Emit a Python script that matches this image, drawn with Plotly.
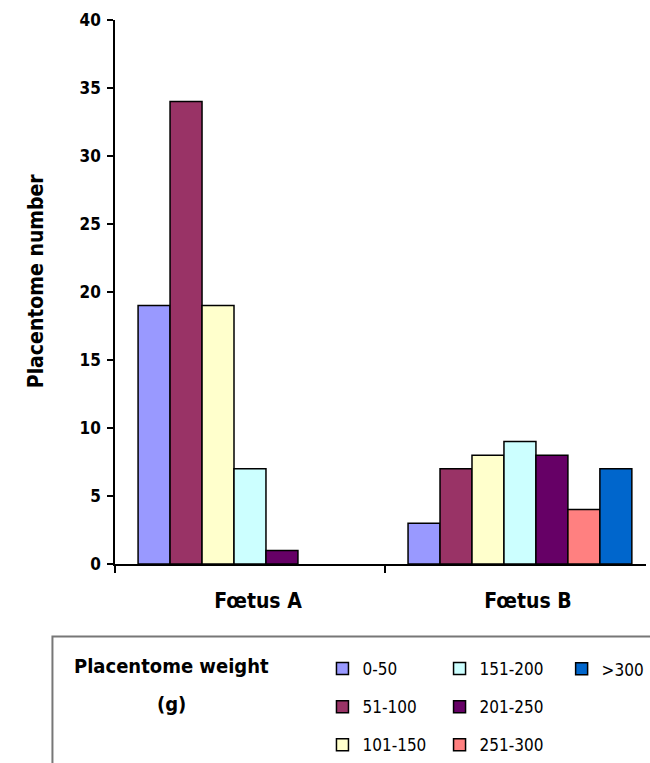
import plotly.graph_objects as go

# data
categories = ["Fœtus A", "Fœtus B"]
weight_classes = ["0-50", "51-100", "101-150", "151-200", "201-250", "251-300", ">300"]
foetus_a = [19, 34, 19, 7, 1, 0, 0]
foetus_b = [3, 7, 8, 9, 8, 4, 7]
colors = ["#9999FF", "#993366", "#FFFFCC", "#CCFFFF", "#660066", "#FF8080", "#0066CC"]

# which legend column each class goes in
legend_cols = ["legend", "legend", "legend", "legend2", "legend2", "legend2", "legend3"]

FONT = "Liberation Sans Narrow, Arial Narrow, DejaVu Sans Condensed, Arial, sans-serif"

fig = go.Figure()

for i, name in enumerate(weight_classes):
    # B first so the legend swatch takes its style from a drawn bar;
    # empty classes keep their slot but draw nothing, like Excel
    vals = [foetus_b[i], foetus_a[i]]
    fig.add_trace(
        go.Bar(
            x=[categories[1], categories[0]],
            y=[v if v else None for v in vals],
            name=name,
            marker=dict(color=colors[i], line=dict(color="black", width=1.5)),
            legend=legend_cols[i],
            legendgroup=name,
        )
    )

legend_style = dict(
    orientation="v",
    bgcolor="rgba(0,0,0,0)",
    font=dict(family=FONT, size=17, color="black"),
    itemwidth=30,
    tracegroupgap=13,
    xanchor="left",
    yanchor="top",
)

fig.update_layout(
    width=650,
    height=763,
    margin=dict(l=115, r=0, t=20, b=196),
    plot_bgcolor="white",
    paper_bgcolor="white",
    barmode="group",
    bargap=0.171,
    bargroupgap=0,
    showlegend=True,
    font=dict(family=FONT, color="black"),
    legend=dict(x=0.3907, y=-0.1605, **legend_style),
    legend2=dict(x=0.6112, y=-0.1605, **legend_style),
    legend3=dict(x=0.8411, y=-0.1605, **legend_style),
)

fig.update_xaxes(
    type="category",
    categoryorder="array",
    categoryarray=categories,
    automargin=False,
    range=[-0.5, -0.5 + 535 / 272],
    showline=True,
    linecolor="black",
    linewidth=1.5,
    ticks="outside",
    tickson="boundaries",
    ticklen=7,
    tickcolor="black",
    tickwidth=1.5,
    ticklabelstandoff=17,
    ticklabelshift=8,
    tickfont=dict(family=FONT, size=21, color="black", weight="bold"),
    showgrid=False,
)

fig.update_yaxes(
    automargin=False,
    range=[0, 40],
    dtick=5,
    showline=True,
    linecolor="black",
    linewidth=1.5,
    ticks="outside",
    ticklen=6,
    tickcolor="black",
    tickwidth=1.5,
    ticklabelstandoff=3,
    tickfont=dict(family=FONT, size=17, color="black", weight="bold"),
    showgrid=False,
    zeroline=False,
)

# y axis title
fig.add_annotation(
    x=-0.1495, y=0.521, xref="paper", yref="paper",
    xanchor="center", yanchor="middle", textangle=-90,
    text="Placentome number", showarrow=False,
    font=dict(family=FONT, size=21, color="black", weight="bold"),
)

# legend frame
fig.add_shape(
    type="rect",
    xref="paper",
    yref="paper",
    x0=-0.1178,
    x1=1.2,
    y0=-0.6,
    y1=-0.1335,
    line=dict(color="#777777", width=2),
    fillcolor="rgba(0,0,0,0)",
)

# legend caption
fig.add_annotation(
    x=0.1065, y=-0.1883, xref="paper", yref="paper",
    xanchor="center", yanchor="middle",
    text="Placentome weight", showarrow=False,
    font=dict(family=FONT, size=20, color="black", weight="bold"),
)
fig.add_annotation(
    x=0.1065, y=-0.2578, xref="paper", yref="paper",
    xanchor="center", yanchor="middle",
    text="(g)", showarrow=False,
    font=dict(family=FONT, size=20, color="black", weight="bold"),
)

# drop the default page margin so the figure sits at the window corner
fig.write_html(
    "out.html",
    config={"displayModeBar": False},
    post_script="document.body.style.margin='0';",
)
